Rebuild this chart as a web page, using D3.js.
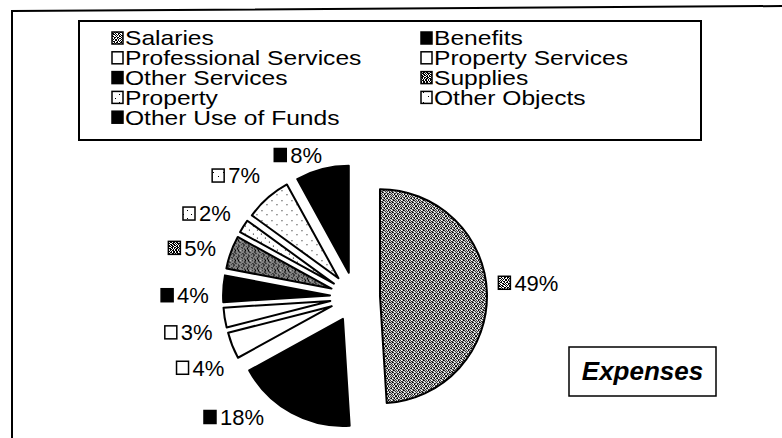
<!DOCTYPE html>
<html><head><meta charset="utf-8">
<script src="https://cdn.jsdelivr.net/npm/d3@7"></script>
<style>
html,body{margin:0;padding:0;background:#fff;}
svg{display:block;}
text{font-family:"Liberation Sans",Arial,Helvetica,sans-serif;fill:#000;}
</style>
</head><body>
<svg id="chart" width="782" height="438"></svg>
<script>
// ---- data ----
const categories = ["Salaries", "Benefits", "Professional Services", "Property Services",
  "Other Services", "Supplies", "Property", "Other Objects", "Other Use of Funds"];
const values = [49, 18, 4, 3, 4, 5, 2, 7, 8];
const valueLabels = values.map(v => v + "%");
const chartTitle = "Expenses";

// ---- styles (kept apart from data) ----
const fills = ["url(#pSal)", "#000", "#fff", "#fff", "#000", "url(#pSup)", "url(#pDotsA)", "url(#pDotsB)", "#000"];

const svg = d3.select("#chart");
const defs = svg.append("defs");

function bitmapPattern(id, rows, bg, fg) {
  const p = defs.append("pattern").attr("id", id).attr("patternUnits", "userSpaceOnUse")
    .attr("width", rows[0].length).attr("height", rows.length);
  p.append("rect").attr("width", rows[0].length).attr("height", rows.length).attr("fill", bg);
  rows.forEach((row, y) => row.split("").forEach((c, x) => {
    if (c === "1") p.append("rect").attr("x", x).attr("y", y).attr("width", 1).attr("height", 1).attr("fill", fg);
  }));
}
bitmapPattern("pSal", [
  "1010011010",
  "0101100101",
  "1100101100",
  "0011010011",
  "1001101010",
  "0110010101",
  "1011001001",
  "0100110110",
  "1010100101",
  "0101011010"], "#fff", "#000");
bitmapPattern("pSup", [
  "1011011010",
  "0101101101",
  "1101101100",
  "0011010111",
  "1101101010",
  "0110110101",
  "1011001101",
  "0110110110",
  "1010101101",
  "1101011010"], "#fff", "#000");
bitmapPattern("pDotsA", [
  "00000000", "00000000", "00010000", "00000000",
  "00000000", "00000000", "00000001", "00000000"], "#fff", "#000");
bitmapPattern("pDotsB", [
  "0000000000", "0000000000", "0001000000", "0000000000", "0000000000",
  "0000000000", "0000000010", "0000000000", "0000000000", "0000000000"], "#fff", "#000");

// ---- frame ----
svg.append("path").attr("d", "M12,438 L12,11 L782,6").attr("fill", "none")
  .attr("stroke", "#000").attr("stroke-width", 2);

// ---- legend ----
const legendBox = {x: 79, y: 21, w: 622, h: 119};
svg.append("rect").attr("x", legendBox.x).attr("y", legendBox.y).attr("width", legendBox.w)
  .attr("height", legendBox.h).attr("fill", "#fff").attr("stroke", "#000").attr("stroke-width", 2);
const colX = [112, 421];
const rowY = d3.scaleLinear().domain([0, 4]).range([38, 117.2]);
const lg = svg.append("g");
categories.forEach((c, i) => {
  const col = i % 2, row = Math.floor(i / 2);
  const x = colX[col], y = rowY(row);
  lg.append("rect").attr("x", x).attr("y", y - 6).attr("width", 11).attr("height", 12)
    .attr("fill", fills[i]).attr("stroke", "#000").attr("stroke-width", 1.5);
  lg.append("text").attr("transform", `translate(${x + 13},${y + 7.3}) scale(1.2,1)`)
    .attr("font-size", 20.5).text(c);
});

// ---- pie ----
const cx = 355, cy = 297, R = 107, EXP = 25, LR = 170;
const pie = d3.pie().sort(null).value(d => d).startAngle(0).endAngle(2 * Math.PI)(values);
const arc = d3.arc().innerRadius(0).outerRadius(R);
pie.forEach(p => {
  p.mid = (p.startAngle + p.endAngle) / 2;
  p.ox = Math.sin(p.mid) * EXP;
  p.oy = -Math.cos(p.mid) * EXP;
  p.ax = cx + p.ox; p.ay = cy + p.oy;
});
const pg = svg.append("g").attr("transform", `translate(${cx},${cy})`);
pg.selectAll("path").data(pie).join("path")
  .attr("transform", d => `translate(${d.ox},${d.oy})`)
  .attr("d", arc)
  .attr("fill", (d, i) => fills[i])
  .attr("stroke", "#000").attr("stroke-width", 2).attr("stroke-linejoin", "round");

// ---- data labels ----
function inAnySlice(px, py, margin) {
  return pie.some(p => {
    const dx = px - p.ax, dy = py - p.ay;
    const dist = Math.hypot(dx, dy);
    let ang = Math.atan2(dx, -dy); if (ang < 0) ang += 2 * Math.PI;
    return dist <= R + margin && ang >= p.startAngle - 0.02 && ang <= p.endAngle + 0.02;
  });
}
const lab = svg.append("g");
pie.forEach((p, i) => {
  const a = p.mid - 3 * Math.PI / 180;
  let lx = cx + LR * Math.sin(a);
  let ly = cy - LR * Math.cos(a);
  ly = Math.max(cy - 142, Math.min(cy + 120, ly));
  const g = lab.append("g");
  const t = g.append("text").attr("font-size", 22).text(valueLabels[i]);
  const tw = t.node().getComputedTextLength();
  const w = 13 + 3 + tw, h = 20;
  const dir = Math.sin(a) >= 0 ? 1 : -1;
  const margin = ly <= cy - 142 ? 4 : 11;
  for (let k = 0; k < 200; k++) {
    const x0 = lx - w / 2, y0 = ly - h / 2;
    let hit = false;
    for (let s = 0; s <= 8 && !hit; s++) {
      const xs = x0 + w * s / 8;
      if (inAnySlice(xs, y0, margin) || inAnySlice(xs, y0 + h, margin)) hit = true;
    }
    for (let s = 0; s <= 4 && !hit; s++) {
      const ys = y0 + h * s / 4;
      if (inAnySlice(x0, ys, margin) || inAnySlice(x0 + w, ys, margin)) hit = true;
    }
    if (!hit) break;
    lx += dir;
  }
  const x0 = lx - w / 2;
  g.append("rect").attr("x", x0).attr("y", ly - 6.5).attr("width", 12).attr("height", 13)
    .attr("fill", fills[i]).attr("stroke", "#000").attr("stroke-width", 1.5);
  t.attr("x", x0 + 16).attr("y", ly + 7.9);
});

// ---- title box ----
svg.append("rect").attr("x", 569).attr("y", 347).attr("width", 147).attr("height", 49)
  .attr("fill", "#fff").attr("stroke", "#000").attr("stroke-width", 1.5);
svg.append("text").attr("x", 642.5).attr("y", 380).attr("text-anchor", "middle")
  .attr("font-size", 26).attr("font-weight", "bold").attr("font-style", "italic").text(chartTitle);
</script>
</body></html>
